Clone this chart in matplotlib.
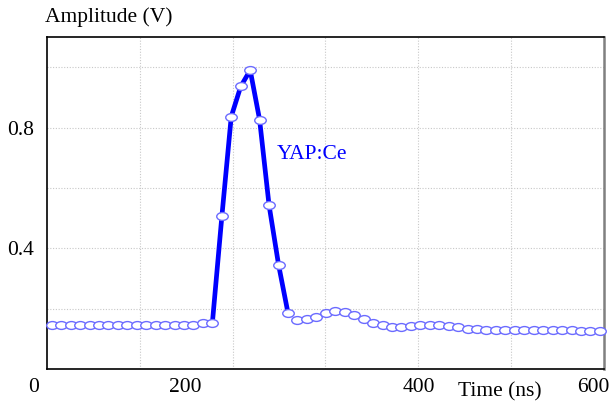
import matplotlib
matplotlib.use('Agg')
import matplotlib.pyplot as plt
from matplotlib.path import Path
from matplotlib.transforms import Affine2D
import numpy as np

# sampled pulse (time in ns, amplitude in V)
time_ns = [5.4, 15.6, 25.7, 35.9, 46.1, 56.3, 66.4, 76.6, 86.8, 96.9,
           107.1, 117.3, 127.4, 137.6, 147.8, 157.9, 168.1, 178.3, 188.5, 198.6,
           208.8, 219.0, 229.1, 239.3, 249.5, 259.7, 269.8, 280.0, 290.2, 300.3,
           310.5, 320.7, 330.8, 341.0, 351.2, 361.4, 371.5, 381.7, 391.9, 402.0,
           412.2, 422.4, 432.5, 442.7, 452.9, 463.1, 473.2, 483.4, 493.6, 503.7,
           513.9, 524.1, 534.2, 544.4, 554.6, 564.8, 574.9, 585.1, 595.3]
amplitude = [0.145, 0.145, 0.145, 0.145, 0.145, 0.145, 0.145, 0.145, 0.145, 0.145,
             0.145, 0.145, 0.145, 0.145, 0.145, 0.145, 0.153, 0.153, 0.506, 0.837,
             0.937, 0.991, 0.827, 0.543, 0.346, 0.185, 0.162, 0.167, 0.171, 0.187,
             0.193, 0.189, 0.178, 0.165, 0.151, 0.145, 0.140, 0.140, 0.142, 0.145,
             0.147, 0.147, 0.142, 0.140, 0.133, 0.131, 0.130, 0.130, 0.130, 0.130,
             0.129, 0.129, 0.129, 0.128, 0.128, 0.128, 0.127, 0.127, 0.127]
pulse_start, pulse_end = 17, 25   # samples joined by the thick line

xtick_labels = ['0', '200', '400', '600']
ytick_labels = ['0.4', '0.8']
series_label = 'YAP:Ce'

serif = ['Liberation Serif', 'DejaVu Serif']
fontsize = 15.5

fig = plt.figure(figsize=(6.11, 4.03), dpi=100)
ax = fig.add_axes([0.0764, 0.0844, 0.9126, 0.823])

# flattened circle marker
ellipse = Path.unit_circle().transformed(Affine2D().scale(1.0, 0.68))

t = np.array(time_ns)
a = np.array(amplitude)
ax.plot(t[pulse_start:pulse_end + 1], a[pulse_start:pulse_end + 1],
        color='#0000ff', lw=3.4, solid_capstyle='butt', zorder=2)
ax.plot(t, a, ls='none', marker=ellipse, ms=8.3, mfc='white',
        mec='#6b6bff', mew=1.0, zorder=3, clip_on=False)

ax.set_xlim(0, 600)
ax.set_ylim(0, 1.1)

ax.set_xticks([100, 200, 300, 400, 500])
ax.set_xticklabels([])
ax.set_yticks([0.2, 0.4, 0.6, 0.8, 1.0])
ax.set_yticklabels(['', ytick_labels[0], '', ytick_labels[1], ''],
                   fontfamily=serif, fontsize=fontsize)
ax.tick_params(length=0, pad=9)
ax.grid(True, ls=(0, (1, 1.5)), color='#c8c8c8', lw=0.8)
ax.set_axisbelow(True)

for side in ['left', 'top', 'bottom']:
    ax.spines[side].set_color('black')
    ax.spines[side].set_linewidth(1.2)
ax.spines['right'].set_color('#808080')
ax.spines['right'].set_linewidth(1.8)

# x labels sit where the original printed them
xlabel_pos = [-14, 149, 400, 588]
for lab, xp in zip(xtick_labels, xlabel_pos):
    ax.text(xp, -0.055, lab, transform=ax.get_xaxis_transform(),
            ha='center', va='center', fontfamily=serif, fontsize=fontsize)
fig.text(0.818, 0.003, 'Time (ns)', ha='center', va='bottom',
         fontfamily=serif, fontsize=fontsize)

fig.text(0.0736, 0.958, 'Amplitude (V)', ha='left', va='center',
         fontfamily=serif, fontsize=fontsize)

ax.text(248, 0.711, series_label, color='#0000ff', ha='left', va='center',
        fontfamily=serif, fontsize=fontsize)

fig.savefig('out.png', dpi=100)
